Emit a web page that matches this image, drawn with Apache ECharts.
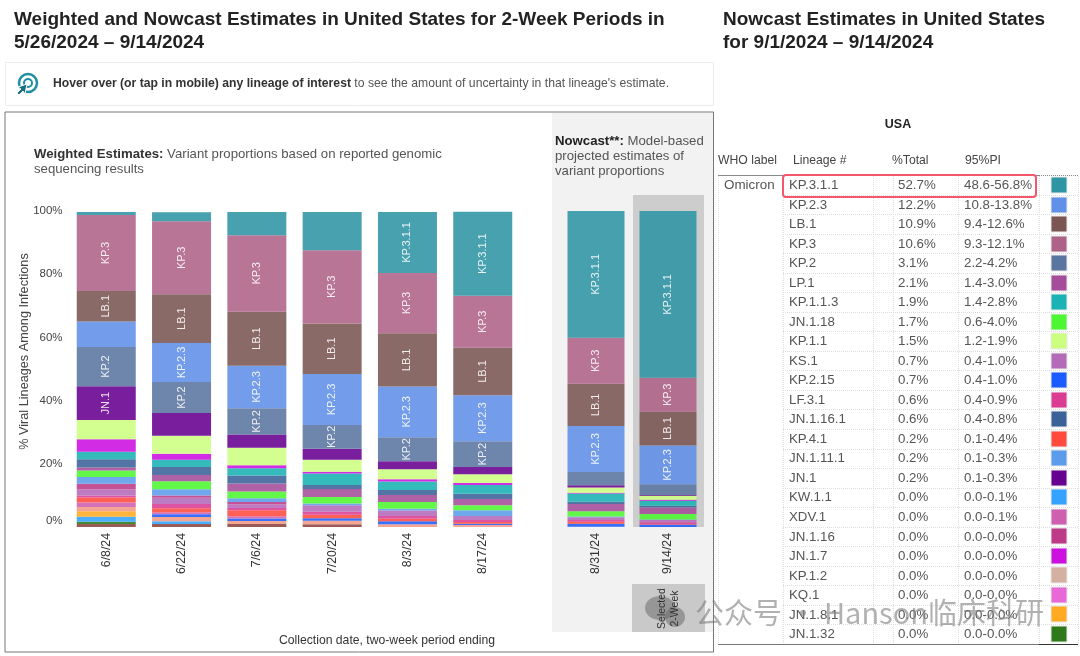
<!DOCTYPE html>
<html><head><meta charset="utf-8">
<style>html,body{margin:0;padding:0;background:#fff}#c{width:1080px;height:656px}</style>
<script src="https://cdn.jsdelivr.net/npm/echarts@6/dist/echarts.min.js"></script>
</head><body><div id="c"></div>
<script>
const periods = ['6/8/24','6/22/24','7/6/24','7/20/24','8/3/24','8/17/24','8/31/24','9/14/24'];
const yTicks = ['0%','20%','40%','60%','80%','100%'];

// Stack values, one per two-week period
const v_KP311 = [0.95,2.85,7.3,12.1,19.3,26.6,40.1,52.8];
const v_KP3   = [24.1,23.1,24.2,23.2,19.1,16.5,14.6,10.7];
const v_LB1   = [9.6,15.4,17.1,16.0,16.8,15.0,13.3,10.7];
const v_KP23  = [8.1,12.4,13.5,16.1,16.1,14.6,14.6,12.3];
const v_KP2   = [12.4,9.8,8.3,7.5,7.6,8.1,4.2,3.4];
const v_JN1   = [10.7,7.2,4.2,3.5,2.5,2.3,0.7,0.2];
const v_KP11  = [6.1,5.7,5.5,3.8,3.2,2.8,1.7,1.3];
const v_JN17  = [3.9,1.9,0.95,0.6,0.7,0.6,0.2,0.3];
const v_KP113 = [2.4,2.3,2.3,3.6,2.7,2.8,2.6,1.6];
const v_JN1161= [2.6,2.5,2.5,1.3,1.6,1.6,0.7,0.5];
const v_LP1   = [1.0,2.0,2.6,2.5,2.2,2.0,2.3,2.1];
const v_JN118 = [2.0,2.5,2.1,2.1,2.1,1.6,1.7,1.7];
const v_JN1111= [2.2,2.0,1.2,0.5,0.6,1.8,0.2,0.2];
const v_JN116 = [1.8,0.7,0.7,0,0,0,0,0];
const v_KS1   = [1.9,2.0,1.2,2.1,1.7,1.3,0.9,0.7];
const v_LF31  = [0.6,1.3,0.7,0.9,0.9,0.6,0.5,0.6];
const v_KP41  = [1.6,1.3,1.9,1.1,0.8,0.6,0.7,0.2];
const v_XDV1  = [1.4,0.6,0.7,0,0,0,0,0];
const v_KP215 = [0,0.9,0.8,0.8,0.95,0.4,0.9,0.7];
const v_KP12  = [1.4,1.3,0.95,1.1,0.85,0.6,0.1,0];
const v_JN181 = [1.7,0,0,0,0,0,0,0];
const v_KW11  = [1.6,0.9,0,0,0,0,0,0];
const v_JN132 = [0.7,0,0,0,0,0,0,0];
const v_OTHER = [0.95,0.95,0.95,0.9,0,0,0,0];

// Stacking order, top of the bar first
const stackNames  = ['KP.3.1.1','KP.3','LB.1','KP.2.3','KP.2','JN.1','KP.1.1','JN.1.7','KP.1.1.3','JN.1.16.1','LP.1','JN.1.18','JN.1.11.1','JN.1.16','KS.1','LF.3.1','KP.4.1','XDV.1','KP.2.15','KP.1.2','JN.1.8.1','KW.1.1','JN.1.32','Other'];
const stackValues = [v_KP311,v_KP3,v_LB1,v_KP23,v_KP2,v_JN1,v_KP11,v_JN17,v_KP113,v_JN1161,v_LP1,v_JN118,v_JN1111,v_JN116,v_KS1,v_LF31,v_KP41,v_XDV1,v_KP215,v_KP12,v_JN181,v_KW11,v_JN132,v_OTHER];

// Which periods carry a name inside the bar
const labelled = {'KP.3.1.1':[4,5,6,7],'KP.3':[0,1,2,3,4,5,6,7],'LB.1':[0,1,2,3,4,5,6,7],'KP.2.3':[1,2,3,4,5,6,7],'KP.2':[0,1,2,3,4,5],'JN.1':[0]};

// Table
const tLineage = ['KP.3.1.1','KP.2.3','LB.1','KP.3','KP.2','LP.1','KP.1.1.3','JN.1.18','KP.1.1','KS.1','KP.2.15','LF.3.1','JN.1.16.1','KP.4.1','JN.1.11.1','JN.1','KW.1.1','XDV.1','JN.1.16','JN.1.7','KP.1.2','KQ.1','JN.1.8.1','JN.1.32'];
const tTotal = ['52.7%','12.2%','10.9%','10.6%','3.1%','2.1%','1.9%','1.7%','1.5%','0.7%','0.7%','0.6%','0.6%','0.2%','0.2%','0.2%','0.0%','0.0%','0.0%','0.0%','0.0%','0.0%','0.0%','0.0%'];
const tPI = ['48.6-56.8%','10.8-13.8%','9.4-12.6%','9.3-12.1%','2.2-4.2%','1.4-3.0%','1.4-2.8%','0.6-4.0%','1.2-1.9%','0.4-1.0%','0.4-1.0%','0.4-0.9%','0.4-0.8%','0.1-0.4%','0.1-0.3%','0.1-0.3%','0.0-0.1%','0.0-0.1%','0.0-0.0%','0.0-0.0%','0.0-0.0%','0.0-0.0%','0.0-0.0%','0.0-0.0%'];
const tColor = ['#2f94a4','#6090e8','#7a5552','#ae6288','#5a75a0','#a54c9a','#1ab2b4','#4cf630','#ccff80','#b46ab8','#1a5cff','#da3c94','#3a6298','#ff4a3e','#5c9cec','#660090','#33a3ff','#cf60b0','#bd3a88','#cc10e0','#d4b0a0','#e868d8','#ffaa20','#2e7a1a'];
const colorOf = Object.fromEntries(tLineage.map((n,i)=>[n,tColor[i]]));
colorOf['Other'] = '#8c4440';
colorOf['KP.1.2'] = '#f39a86';

const FONT = '"Liberation Sans", Arial, sans-serif';
const series = [];
[[0,0,6],[1,6,8]].forEach(([axis,from,to])=>{
  stackNames.map((name,k)=>[name,k]).reverse().forEach(([name,k])=>{
    series.push({
      type:'bar', name, stack:'s'+axis, xAxisIndex:axis, yAxisIndex:axis,
      barWidth: axis===0 ? 59 : 57,
      itemStyle:{color:colorOf[name],opacity:0.88},
      silent:true,
      data: stackValues[k].slice(from,to).map((v,i)=>{
        const show=(labelled[name]||[]).includes(from+i);
        return show ? {value:v,label:{show:true,position:'inside',rotate:90,color:'#fff',fontSize:11,fontFamily:FONT,formatter:name}} : v;
      })
    });
  });
});

const g = [];
const txt = (x,y,text,o={}) => g.push({type:'text',x,y:y+1.5,z:o.z||5,rotation:o.rot||0,silent:true,style:Object.assign({text,fill:o.fill||'#555',font:(o.bold?'bold ':'')+(o.size||12)+'px '+FONT,textAlign:o.align||'left',textVerticalAlign:'middle'},o.style||{})});
const rect = (x,y,w,h,fill,stroke,z,lw) => g.push({type:'rect',z:z||0,silent:true,shape:{x,y,width:w,height:h},style:{fill:fill||'none',stroke:stroke||'none',lineWidth:lw||1}});
const line = (x1,y1,x2,y2,stroke,dash,z) => g.push({type:'line',z:z||1,silent:true,shape:{x1,y1,x2,y2},style:{stroke,lineWidth:1,lineDash:dash||null}});

// Titles
txt(14,18,'Weighted and Nowcast Estimates in United States for 2-Week Periods in',{bold:1,size:19,fill:'#222'});
txt(14,41,'5/26/2024 – 9/14/2024',{bold:1,size:19,fill:'#222'});
txt(723,18,'Nowcast Estimates in United States',{bold:1,size:19,fill:'#222'});
txt(723,41,'for 9/1/2024 – 9/14/2024',{bold:1,size:19,fill:'#222'});

// Hint box
rect(5.5,62.5,708,43,'#fff','#ececec');
g.push({type:'circle',silent:true,z:2,shape:{cx:28,cy:83,r:9},style:{fill:'none',stroke:'#1f8fa3',lineWidth:2.5}});
g.push({type:'circle',silent:true,z:2,shape:{cx:28,cy:83,r:4},style:{fill:'none',stroke:'#1f8fa3',lineWidth:2}});
g.push({type:'polygon',silent:true,z:3,shape:{points:[[27,84],[25,94],[23,91],[19,95],[17,93],[21,89],[18,87]]},style:{fill:'#176f80',stroke:'#fff',lineWidth:1}});
g.push({type:'text',x:53,y:84,z:5,silent:true,style:{text:'{b|Hover over (or tap in mobile) any lineage of interest}{n| to see the amount of uncertainty in that lineage\'s estimate.}',textVerticalAlign:'middle',rich:{b:{font:'bold 12.2px '+FONT,fill:'#333'},n:{font:'12.2px '+FONT,fill:'#555'}}}});

// Frame and panels
rect(552,113,161,519,'#f2f2f2',null,0);
rect(633,195,71,332,'#cdcdcd',null,1);
rect(632,584,73,48,'#c9c9c9',null,1);
rect(5,112,708.5,540,'none','#777',1);
txt(662,607,'Selected',{rot:Math.PI/2,align:'center',size:10.5,fill:'#333'});
txt(675,607,'2-Week',{rot:Math.PI/2,align:'center',size:10.5,fill:'#333'});

// Chart captions
g.push({type:'text',x:34,y:154,z:5,silent:true,style:{text:'{b|Weighted Estimates:}{n| Variant proportions based on reported genomic}',textVerticalAlign:'middle',rich:{b:{font:'bold 13.2px '+FONT,fill:'#333'},n:{font:'13.2px '+FONT,fill:'#555'}}}});
txt(34,168,'sequencing results',{size:13.2});
g.push({type:'text',x:555,y:141,z:5,silent:true,style:{text:'{b|Nowcast**:}{n| Model-based}',textVerticalAlign:'middle',rich:{b:{font:'bold 13.2px '+FONT,fill:'#222'},n:{font:'13.2px '+FONT,fill:'#555'}}}});
txt(555,155,'projected estimates of',{size:13.2});
txt(555,170,'variant proportions',{size:13.2});
txt(24,350,'% Viral Lineages Among Infections',{rot:Math.PI/2,align:'center',size:12.7,fill:'#444'});
txt(387,639,'Collection date, two-week period ending',{align:'center',size:12.2,fill:'#333'});

// Table
const rowY = i => 185 + i*19.52;
txt(898,123,'USA',{bold:1,size:12.5,align:'center',fill:'#222'});
txt(718,159,'WHO label',{size:12.2,fill:'#444'});
txt(793,159,'Lineage #',{size:12.2,fill:'#444'});
txt(892,159,'%Total',{size:12.2,fill:'#444'});
txt(965,159,'95%PI',{size:12.2,fill:'#444'});
txt(724,184,'Omicron',{size:13.4});
line(718,175.5,1039,175.5,'#888');
line(1039,175.5,1078,175.5,'#888',[1,1]);
line(718,644.5,1039,644.5,'#777');
line(1039,644.5,1078,644.5,'#333');
[718.5,783.5,873.5,893.5,958.5,1039.5,1078.5].forEach(x=>line(x,176,x,644,'#ddd',[1,1]));
tLineage.forEach((n,i)=>{
  const y=rowY(i);
  if(i>0) line(783,Math.round(y-9.76)+0.5,1078,Math.round(y-9.76)+0.5,'#ddd',[1,1]);
  txt(789,y-1,n,{size:13.3});
  txt(898,y-1,tTotal[i],{size:13.3});
  txt(964,y-1,tPI[i],{size:13.3});
  rect(1051,Math.round(y-8),16,16,tColor[i],'#e8e8e8',2);
});
g.push({type:'rect',z:6,silent:true,shape:{x:783,y:175,width:253,height:22,r:3},style:{fill:'none',stroke:'#f4566c',lineWidth:2}});

// Watermark
g.push({type:'ellipse',z:2,silent:true,shape:{cx:660,cy:608,rx:15,ry:12},style:{fill:'rgba(100,100,100,0.5)'}});
g.push({type:'ellipse',z:2,silent:true,shape:{cx:675,cy:617,rx:10,ry:10},style:{fill:'rgba(100,100,100,0.5)'}});
txt(695,611,'公众号 · Hanson临床科研',{z:7,fill:'rgba(125,125,125,0.6)',style:{font:'29px "Noto Sans CJK SC", "Liberation Sans", sans-serif'}});

const xa = (idx) => ({type:'category',gridIndex:idx,data: idx===0?periods.slice(0,6):periods.slice(6,8),
  axisLine:{show:false},axisTick:{show:false},
  axisLabel:{rotate:90,margin:6,fontSize:12.3,color:'#333',fontFamily:FONT}});

const option = {
  animation:false,
  backgroundColor:'#fff',
  grid:[{left:68.6,top:211,width:451.8,height:316},{left:560,top:211,width:144,height:316}],
  xAxis:[xa(0),xa(1)],
  yAxis:[
    {type:'value',gridIndex:0,min:0,max:100,interval:20,splitLine:{show:false},axisLine:{show:false},axisTick:{show:false},
     axisLabel:{margin:6,fontSize:11.5,color:'#444',fontFamily:FONT,
       formatter:v=> v===0 ? '{z|'+yTicks[0]+'}' : yTicks[v/20],
       rich:{z:{fontSize:11.5,color:'#444',fontFamily:FONT,padding:[0,0,12,0]}}}},
    {type:'value',gridIndex:1,min:0,max:100,interval:20,show:false,splitLine:{show:false}}
  ],
  series,
  graphic:g
};
echarts.init(document.getElementById('c')).setOption(option);
</script></body></html>
